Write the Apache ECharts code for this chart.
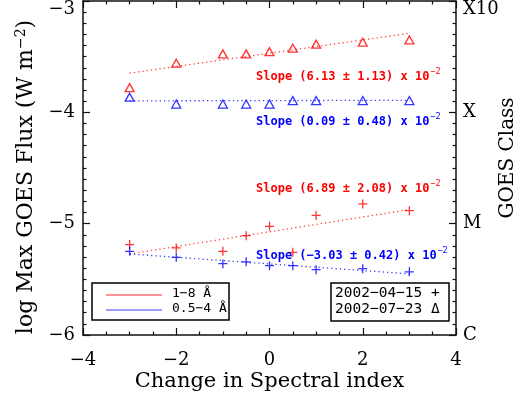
<!DOCTYPE html>
<html>
<head>
<meta charset="utf-8">
<script src="https://cdn.jsdelivr.net/npm/echarts@6/dist/echarts.min.js"></script>
<style>
html, body { margin: 0; padding: 0; background: #fff; }
#chart { width: 522px; height: 400px; }
</style>
</head>
<body>
<div id="chart"></div>
<script>
// change in spectral index
var xValues = [-3, -2, -1, -0.5, 0, 0.5, 1, 2, 3];
// log max GOES flux, 2002-04-15 (+)
var aprLong = [-5.188, -5.218, -5.248, -5.108, -5.024, -5.257, -4.926, -4.823, -4.883];
var aprShort = [-5.248, -5.302, -5.359, -5.343, -5.377, -5.377, -5.413, -5.404, -5.433];
// log max GOES flux, 2002-07-23 (triangles)
var julLong = [-3.778, -3.559, -3.475, -3.475, -3.455, -3.424, -3.388, -3.370, -3.350];
var julShort = [-3.864, -3.926, -3.926, -3.926, -3.926, -3.894, -3.894, -3.894, -3.894];
// linear fits, end points
var fitJulLong = [[-3, -3.648], [3, -3.290]];
var fitJulShort = [[-3, -3.897], [3, -3.892]];
var fitAprLong = [[-3, -5.272], [3, -4.874]];
var fitAprShort = [[-3, -5.272], [3, -5.451]];
// GOES class labels on right axis
var classTicks = [-6, -5, -4, -3];
var classNames = ['C', 'M', 'X', 'X10'];
var slopeTexts = [
    'Slope (6.13 ± 1.13) x 10',
    'Slope (0.09 ± 0.48) x 10',
    'Slope (6.89 ± 2.08) x 10',
    'Slope (−3.03 ± 0.42) x 10'
];

var RED = '#ff0000', BLUE = '#0000ff';
var SERIF = 'DejaVu Serif', MONO = 'DejaVu Sans Mono';

function pts(arr) {
    return xValues.map(function (x, i) { return [x, arr[i]]; });
}
// top label pushed down so it stays inside the window
function minus(v) {
    var s = String(v).replace('-', '−');
    return v === -3 ? '{top|' + s + '}' : s;
}

var cross = 'path://M0,5L10,5M5,0L5,10';

function scatter(arr, symbol, size, color) {
    return {
        type: 'scatter', data: pts(arr), symbol: symbol, symbolSize: size,
        itemStyle: { color: 'rgba(0,0,0,0)', borderColor: color, borderWidth: 1.3 },
        silent: true, z: 3
    };
}
function fit(arr, color) {
    return {
        type: 'line', data: arr, symbol: 'none', silent: true,
        lineStyle: { color: color, width: 1.3, type: [1.3, 3] }, z: 2
    };
}

var axisLine = { onZero: false, lineStyle: { color: '#111', width: 1.5 } };
var tick = { inside: true, length: 7, lineStyle: { color: '#111', width: 1.2 } };
function minor(n) {
    return { show: true, splitNumber: n, length: 3.5, lineStyle: { color: '#111', width: 1.2 } };
}
var labelFont = { fontFamily: SERIF, fontSize: 18, color: '#000',
    rich: { top: { fontFamily: SERIF, fontSize: 18, color: '#000', padding: [16, 0, 0, 0] } } };
var nameFont = { fontFamily: SERIF, fontSize: 21, color: '#000' };

var graphics = [];
var slopeY = [78, 123, 190, 257];
var slopeColor = [RED, BLUE, RED, BLUE];
slopeTexts.forEach(function (t, i) {
    graphics.push({
        type: 'text', left: 256, top: slopeY[i] - 7, z: 100,
        style: { text: t, fill: slopeColor[i], font: 'bold 12px ' + MONO }
    });
    graphics.push({
        type: 'text', left: 256 + t.length * 7.22 + 1, top: slopeY[i] - 11, z: 100,
        style: { text: '−2', fill: slopeColor[i], font: '8.5px ' + MONO }
    });
});
// band legend
graphics.push({ type: 'rect', shape: { x: 92, y: 283, width: 137, height: 37 },
    style: { fill: null, stroke: '#000', lineWidth: 1.5 }, z: 100 });
graphics.push({ type: 'line', shape: { x1: 106, y1: 295, x2: 162, y2: 295 },
    style: { stroke: '#ff6f6f', lineWidth: 1.5 }, z: 100 });
graphics.push({ type: 'line', shape: { x1: 106, y1: 310, x2: 162, y2: 310 },
    style: { stroke: '#7f7fff', lineWidth: 1.5 }, z: 100 });
graphics.push({ type: 'text', left: 172, top: 287, z: 100,
    style: { text: '1−8 Å', fill: '#000', font: '13px ' + MONO } });
graphics.push({ type: 'text', left: 172, top: 302, z: 100,
    style: { text: '0.5−4 Å', fill: '#000', font: '13px ' + MONO } });
// date legend
graphics.push({ type: 'rect', shape: { x: 331, y: 283, width: 118, height: 38 },
    style: { fill: null, stroke: '#000', lineWidth: 1.5 }, z: 100 });
graphics.push({ type: 'text', left: 335, top: 286, z: 100,
    style: { text: '2002−04−15 +', fill: '#000', font: '14.5px ' + MONO } });
graphics.push({ type: 'text', left: 335, top: 302, z: 100,
    style: { text: '2002−07−23 Δ', fill: '#000', font: '14.5px ' + MONO } });

var myChart = echarts.init(document.getElementById('chart'));
var option = {
    animation: false,
    backgroundColor: '#fff',
    grid: { left: 83, right: 66, top: 1, bottom: 65, outerBoundsMode: 'none', containLabel: false },
    xAxis: [{
        type: 'value', min: -4, max: 4, interval: 2, position: 'bottom',
        axisLine: axisLine, axisTick: tick, minorTick: minor(4),
        splitLine: { show: false },
        axisLabel: Object.assign({ margin: 16, formatter: minus }, labelFont),
        name: 'Change in Spectral index', nameLocation: 'middle', nameGap: 36,
        nameMoveOverlap: false, nameTextStyle: nameFont
    }, {
        type: 'value', min: -4, max: 4, interval: 2, position: 'top',
        axisLine: axisLine, axisTick: tick, minorTick: minor(4),
        splitLine: { show: false }, axisLabel: { show: false }
    }],
    yAxis: [{
        type: 'value', min: -6, max: -3, interval: 1, position: 'left',
        axisLine: axisLine, axisTick: tick, minorTick: minor(10),
        splitLine: { show: false },
        axisLabel: Object.assign({ margin: 8, formatter: minus }, labelFont),
        name: '{a|log Max GOES Flux (W m}{s|−2}{a|)}', nameLocation: 'middle', nameGap: 44,
        nameRotate: 90, nameMoveOverlap: false,
        nameTextStyle: Object.assign({}, nameFont, {
            fontSize: 22, padding: [0, 18, 0, 0],
            rich: {
                a: { fontFamily: SERIF, fontSize: 22, color: '#000', lineHeight: 25 },
                s: { fontFamily: SERIF, fontSize: 14, color: '#000', lineHeight: 14, verticalAlign: 'top' }
            }
        })
    }, {
        type: 'value', min: -6, max: -3, interval: 1, position: 'right',
        axisLine: axisLine, axisTick: tick, minorTick: minor(10),
        splitLine: { show: false },
        axisLabel: Object.assign({}, labelFont, { margin: 7, formatter: function (v) {
            var s = classNames[classTicks.indexOf(v)];
            return v === -3 ? '{top|' + s + '}' : s;
        } }),
        name: 'GOES Class', nameLocation: 'middle', nameGap: 42,
        nameRotate: 90, nameMoveOverlap: false,
        nameTextStyle: Object.assign({}, nameFont, { fontSize: 20, padding: [0, 0, 0, 20] })
    }],
    series: [
        fit(fitJulLong, '#ff4040'),
        fit(fitJulShort, '#4040ff'),
        fit(fitAprLong, '#ff4040'),
        fit(fitAprShort, '#4040ff'),
        scatter(julLong, 'triangle', [9, 8], RED),
        scatter(julShort, 'triangle', [9, 8], BLUE),
        scatter(aprLong, cross, 9, RED),
        scatter(aprShort, cross, 9, BLUE)
    ],
    graphic: graphics
};
option && myChart.setOption(option);
</script>
</body>
</html>
